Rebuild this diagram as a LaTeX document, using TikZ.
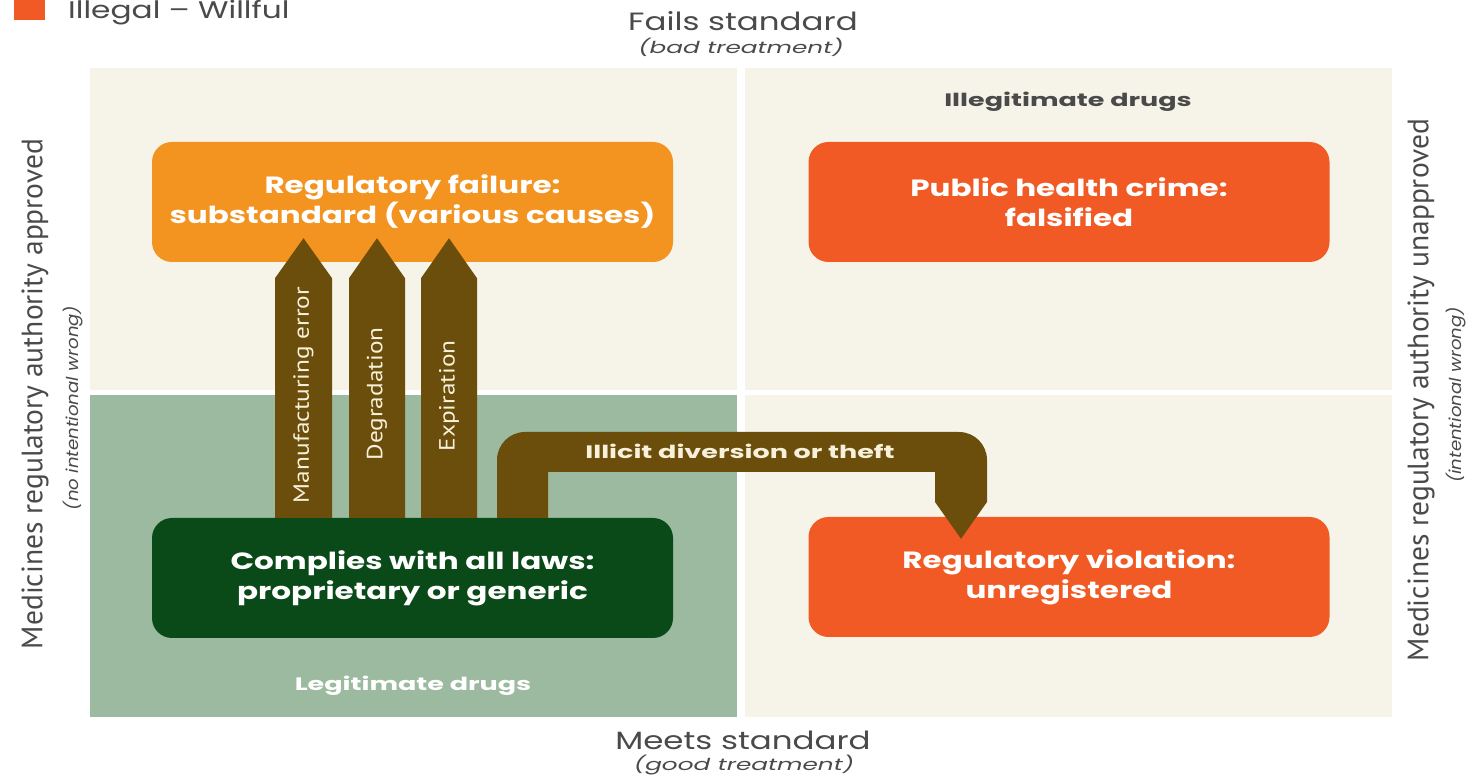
\documentclass[tikz,border=0pt]{standalone}
\usepackage{fontspec}
\setmainfont{Poppins}
\newfontfamily\headfont[FakeStretch=1.30]{Poppins}
\newfontfamily\boxfont[FakeStretch=1.32]{Poppins}
\newfontfamily\tagfont[FakeStretch=1.50]{Poppins}
\newfontfamily\notefont[FakeStretch=1.50]{Poppins}
\newfontfamily\sidenotefont[FakeStretch=1.10]{Poppins}
\newfontfamily\sidefont{PT Sans}
\newfontfamily\causefont[FakeStretch=1.15]{PT Sans}
\usetikzlibrary{calc}

\definecolor{paper}{HTML}{F6F3E8}
\definecolor{legitbg}{HTML}{9CBA9F}
\definecolor{failcol}{HTML}{F39320}
\definecolor{crimecol}{HTML}{F15A24}
\definecolor{okcol}{HTML}{0A4A18}
\definecolor{pathcol}{HTML}{6B4E0C}
\definecolor{labelgray}{HTML}{4A4A4A}
\definecolor{arrowtext}{HTML}{F7F0DA}

\begin{document}
\begin{tikzpicture}[x=1pt,y=1pt,
  quadrant/.style={fill=#1, draw=none},
  outcome/.style={rounded corners=20pt, minimum width=521pt, minimum height=120pt,
    inner sep=0pt, text=white, align=center,
    font=\boxfont\fontsize{23.5}{30}\selectfont\bfseries},
  causelabel/.style={rotate=90, text=arrowtext, inner sep=0pt,
    font=\causefont\fontsize{22}{24}\selectfont},
  axislabel/.style={text=labelgray, inner sep=0pt, font=\headfont\fontsize{25}{27}\selectfont},
  axisnote/.style={text=labelgray, inner sep=0pt, font=\notefont\fontsize{16.5}{18}\selectfont\itshape},
  sidelabel/.style={rotate=90, text=labelgray, inner sep=0pt, font=\sidefont\fontsize{29.5}{31}\selectfont},
  sidenote/.style={rotate=90, text=labelgray, inner sep=0pt, font=\sidenotefont\fontsize{16.5}{18}\selectfont\itshape},
  tag/.style={inner sep=0pt, font=\tagfont\fontsize{18}{20}\selectfont\bfseries},
  arrowfill/.style={fill=pathcol, draw=none}]

\useasboundingbox (0,0) rectangle (1466,776);
\fill[white] (0,0) rectangle (1466,776);

% legend
\fill[crimecol] (14,756) rectangle (45,778);
\node[anchor=west, text=labelgray, inner sep=0pt, font=\headfont\fontsize{24}{26}\selectfont] (legend) at (68,763) {Illegal – Willful};

% quadrants
\fill[quadrant=paper]   (90,386) rectangle (737,708);
\fill[quadrant=paper]   (745,386) rectangle (1392,708);
\fill[quadrant=legitbg] (90,59) rectangle (737,381);
\fill[quadrant=paper]   (745,59) rectangle (1392,381);

% axis labels
\node[axislabel] (fails) at (743,755) {Fails standard};
\node[axisnote]  (failsnote) at (741,729) {(bad treatment)};
\node[axislabel] (meets) at (743,36) {Meets standard};
\node[axisnote]  (meetsnote) at (744,11) {(good treatment)};
\node[sidelabel] (approved) at (35,382) {Medicines regulatory authority approved};
\node[sidenote]  (approvednote) at (73,368) {(no intentional wrong)};
\node[sidelabel] (unapproved) at (1421,386) {Medicines regulatory authority unapproved};
\node[sidenote]  (unapprovednote) at (1456,381) {(intentional wrong)};

% quadrant titles
\node[tag, text=labelgray] (illegit) at (1068,674) {Illegitimate drugs};
\node[tag, text=white]     (legit)   at (413,90)   {Legitimate drugs};

% outcome boxes
\node[outcome, fill=failcol]  (fail)  at (412.5,574) {Regulatory failure:\\substandard (various causes)};
\node[outcome, fill=crimecol] (crime) at (1069,574)  {Public health crime:\\falsified};
\node[outcome, fill=okcol]    (comp)  at (412.5,198) {Complies with all laws:\\proprietary or generic};
\node[outcome, fill=crimecol] (viol)  at (1069,199)  {Regulatory violation:\\unregistered};

% cause arrows from compliant to substandard
\fill[arrowfill] let \p1=(comp.north), \p2=(fail.south) in
  (275,\y1) -- (275,\y2-16pt) -- (303.5,\y2+24pt) -- (332,\y2-16pt) -- (332,\y1) -- cycle;
\fill[arrowfill] let \p1=(comp.north), \p2=(fail.south) in
  (349,\y1) -- (349,\y2-16pt) -- (377,\y2+24pt) -- (405,\y2-16pt) -- (405,\y1) -- cycle;
\fill[arrowfill] let \p1=(comp.north), \p2=(fail.south) in
  (421,\y1) -- (421,\y2-16pt) -- (449,\y2+24pt) -- (477,\y2-16pt) -- (477,\y1) -- cycle;
\node[causelabel] (cause1) at (303.5,381) {Manufacturing error};
\node[causelabel] (cause2) at (377,382) {Degradation};
\node[causelabel] (cause3) at (449,380) {Expiration};

% diversion arrow from compliant to unregistered
\fill[arrowfill] let \p1=(comp.north), \p2=(viol.north) in
  (497,\y1) -- (497,316) arc[start angle=180, end angle=90, radius=28]
  -- (959,344) arc[start angle=90, end angle=0, radius=28]
  -- (987,274) -- (961,\y2-22pt) -- (935,274) -- (935,304) -- (548,304) -- (548,\y1) -- cycle;
\node[tag, text=arrowtext] (divert) at (740,325) {Illicit diversion or theft};

\end{tikzpicture}
\end{document}
